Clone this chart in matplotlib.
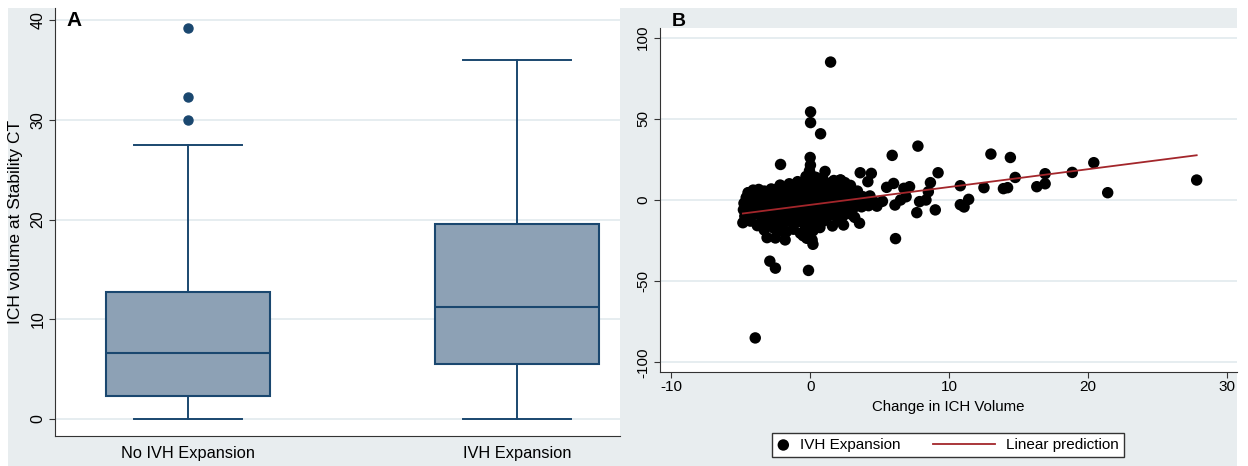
import numpy as np
import matplotlib.pyplot as plt
from matplotlib.patches import Rectangle
from matplotlib.legend_handler import HandlerLine2D

plt.rcParams['font.family'] = ['Liberation Sans', 'DejaVu Sans']
plt.rcParams['axes.unicode_minus'] = False

# ---- panel A: box plot summaries
groups = ['No IVH Expansion', 'IVH Expansion']
q1 = [2.3, 5.5]
med = [6.6, 11.2]
q3 = [12.7, 19.5]
whis_lo = [0.0, 0.0]
whis_hi = [27.5, 36.0]
outliers = [[30.0, 32.3, 39.2], []]

# ---- panel B: change in ICH volume vs change in IVH (estimated points)
chg_ich = [
    # outlying points
    1.47, 0.03, 0.03, 0.75, -2.13, 0.0, 5.9, 7.75, 13.0, 14.4, 20.4, 18.85,
    16.9, 16.9, 16.3, 14.75, 14.2, 13.9, 12.5, 10.8, 11.4, 11.07, 10.8, 21.4,
    27.8, 9.2, 8.65, 8.5, 8.33, 7.87, 7.67, 9.0, 6.14, 6.1, 7.15, 6.74, 6.0,
    5.5, 6.9, 6.5, 3.6, 4.4, 4.15, 1.07, 1.6, 2.4, 3.55, 3.2, -0.12, -2.9,
    -2.5, -3.95, 0.2, 0.14, -0.5, -1.8, -3.1, -2.5, -3.8, -4.84, -4.76, -4.47,
    -4.1, -4.7, -2.16, -0.9, 2.16, 2.5, -1.7, 0.02, -0.05, 0.1, -0.1, 0.3,
    # upper part of the cluster
    -0.3, 0.4, 0.9, 1.7, 2.2, -1.5, -0.5, 0.2, 0.7, 1.3, 1.9, 2.9,
    -4.4, -3.7, -3.3, -2.8, -2.3, -1.7, -1.2, -0.6, 0.0, 0.5, 1.0, 1.6, 2.3, 2.8, 3.4,
    -4.6, -4.2, -3.8, -3.4, -3.0, -2.6, -2.1, -1.6, -1.1, -0.6, -0.2, 0.3, 0.8,
    1.3, 1.8, 2.3, 2.8, 3.3, 3.8, 4.3,
    # middle of the cluster
    -4.3, -3.9, -3.5, -3.1, -2.7, -2.3, -1.9, -1.5, -1.0, -0.5, 0.0, 0.5, 1.0,
    1.5, 2.0, 2.5, 3.0, 3.5, 4.0, 4.6, 5.2,
    -4.8, -4.4, -4.0, -3.6, -3.2, -2.8, -2.4, -2.0, -1.6, -1.2, -0.8, -0.4, 0.1,
    0.6, 1.1, 1.6, 2.1, 2.6, 3.1, 3.7, 4.2, 4.8,
    # lower part of the cluster
    -4.7, -4.2, -3.8, -3.3, -2.9, -2.4, -2.0, -1.5, -1.0, -0.6, -0.1, 0.4, 0.9,
    1.4, 1.9, 2.4, 3.0,
    -4.3, -3.4, -2.9, -2.5, -2.0, -1.6, -1.2, -0.8, -0.4, 0.0, 0.5, 1.0, 2.0,
    -3.3, -2.6, -2.2, -1.2, -0.7, -0.3, 0.2, 0.7, -0.24,
]
chg_ivh = [
    85.0, 54.3, 47.7, 40.8, 21.9, 26.2, 27.5, 33.2, 28.3, 26.2, 23.0, 17.0,
    16.2, 10.0, 8.2, 13.9, 7.6, 7.0, 7.6, 8.8, 0.4, -4.3, -2.9, 4.5,
    12.3, 16.8, 10.7, 5.1, 0.0, -1.0, -7.8, -6.1, -23.8, -3.1, 8.2, 7.2, 10.2,
    7.8, 2.0, 0.0, 16.8, 16.4, 11.3, 17.6, -16.0, -15.4, -14.3, -10.7, -43.4, -37.7,
    -42.0, -85.0, -27.3, -24.6, -22.0, -24.6, -23.2, -23.4, -15.8, -14.0, -2.0, 4.5,
    6.1, -6.0, 9.2, 11.3, 12.3, 10.7, -19.5, 21.5, 18.0, 15.0, 13.0, 12.5,
    14.5, 14.0, 13.5, 12.0, 12.3, 10.0, 10.5, 11.0, 10.8, 10.2, 9.5, 9.0,
    4.5, 6.5, 5.5, 6.8, 7.2, 7.5, 8.0, 8.3, 8.8, 8.0, 7.6, 7.0, 6.8, 5.8, 5.5,
    1.5, 2.5, 3.0, 2.5, 3.0, 3.5, 3.2, 4.0, 3.5, 4.2, 4.5, 4.0, 3.6,
    3.2, 3.0, 2.5, 2.0, 1.5, 2.0, 2.5,
    -1.5, -1.0, -0.5, -1.2, -0.3, -0.8, 0.0, -0.5, 0.3, -0.2, 0.5, 0.0, -0.5,
    -0.2, -1.0, -0.8, -1.5, -1.0, -0.5, -1.2, -0.8,
    -6.0, -5.5, -5.0, -5.8, -4.5, -5.2, -4.8, -5.5, -4.2, -5.0, -4.5, -5.2, -4.3,
    -5.0, -4.5, -5.2, -4.8, -5.5, -5.0, -4.2, -3.5, -3.8,
    -10.0, -9.5, -8.8, -9.5, -8.5, -9.2, -8.6, -9.8, -8.8, -9.5, -8.5, -9.8, -8.8,
    -9.5, -8.5, -9.5, -9.0,
    -13.0, -12.5, -13.5, -12.8, -14.0, -13.0, -14.5, -13.2, -15.0, -13.5, -14.2, -12.8, -12.5,
    -18.5, -17.5, -19.0, -18.0, -20.5, -17.5, -19.0, -17.0, -23.6,
]
fit_intercept = -3.0
fit_slope = 1.1

navy = '#1a476f'
box_fill = '#8da1b5'
bg = '#e8edef'
grid_c = '#e4ecef'
axis_c = '#333333'
fit_c = '#a3262b'


class WideLine(HandlerLine2D):
    # legend line drawn longer than the (short) handle box
    def get_xdata(self, legend, xdescent, ydescent, width, height, fontsize):
        x0 = -xdescent - 3.3 * fontsize
        return [x0, -xdescent + width], [x0]


fig = plt.figure(figsize=(12.48, 4.66), dpi=100)
fig.patches.append(Rectangle((8 / 1248, 0), 1229 / 1248, 458 / 466,
                             transform=fig.transFigure, facecolor=bg,
                             edgecolor='none', zorder=-10))

axA = fig.add_axes([55 / 1248, 30 / 466, 565 / 1248, 428 / 466])
axB = fig.add_axes([660 / 1248, 94 / 466, 577 / 1248, 344 / 466])

# ---- A
stats = []
for i in range(len(groups)):
    stats.append(dict(med=med[i], q1=q1[i], q3=q3[i], whislo=whis_lo[i],
                      whishi=whis_hi[i], fliers=outliers[i], label=groups[i]))
axA.bxp(stats, positions=[1, 2], widths=0.5, capwidths=0.33, patch_artist=True,
        boxprops=dict(facecolor=box_fill, edgecolor=navy, linewidth=1.5),
        medianprops=dict(color=navy, linewidth=1.5),
        whiskerprops=dict(color=navy, linewidth=1.4),
        capprops=dict(color=navy, linewidth=1.4),
        flierprops=dict(marker='o', markerfacecolor=navy, markeredgecolor=navy,
                        markersize=6.5))
axA.set_xlim(0.596, 2.313)
axA.set_ylim(-1.75, 41.25)
axA.set_yticks([0, 10, 20, 30, 40])
axA.yaxis.grid(True, color=grid_c, linewidth=1.3)
axA.set_axisbelow(True)
axA.set_ylabel('ICH volume at Stability CT', fontsize=12.5, labelpad=5)
axA.tick_params(axis='x', length=0, pad=7, labelsize=11.8)
axA.tick_params(axis='y', length=4, direction='out', color=axis_c,
                labelsize=11.5, labelrotation=90, pad=3)
for lbl in axA.get_yticklabels():
    lbl.set_va('center')

# ---- B
axB.scatter(chg_ich, chg_ivh, s=68, color='black', edgecolors='none',
            zorder=3, label='IVH Expansion')
fx = np.array([min(chg_ich), max(chg_ich)])
fit_line, = axB.plot(fx, fit_intercept + fit_slope * fx, color=fit_c,
                     linewidth=1.3, zorder=4, label='Linear prediction')
axB.set_xlim(-10.8, 30.7)
axB.set_ylim(-106, 106)
axB.set_xticks([-10, 0, 10, 20, 30])
axB.set_yticks([-100, -50, 0, 50, 100])
axB.yaxis.grid(True, color=grid_c, linewidth=1.3)
axB.set_axisbelow(True)
axB.set_xlabel('Change in ICH Volume', fontsize=10.8, labelpad=4)
axB.tick_params(axis='x', length=4, color=axis_c, labelsize=11, pad=2)
axB.tick_params(axis='y', length=4, color=axis_c, labelsize=11,
                labelrotation=90, pad=3)
for lbl in axB.get_yticklabels():
    lbl.set_va('center')

for ax in (axA, axB):
    ax.set_facecolor('white')
    ax.spines['top'].set_visible(False)
    ax.spines['right'].set_visible(False)
    ax.spines['left'].set_color(axis_c)
    ax.spines['bottom'].set_color(axis_c)

fig.text(66 / 1248, 1 - 21 / 466, 'A', fontsize=15, fontweight='bold', va='center')
fig.text(672 / 1248, 1 - 21 / 466, 'B', fontsize=14, fontweight='bold', va='center')

fig.legend(handles=[axB.collections[0], fit_line],
           labels=['IVH Expansion', 'Linear prediction'],
           loc='upper center', bbox_to_anchor=(948 / 1248, 1 - 425 / 466),
           ncol=2, fontsize=11, frameon=True, fancybox=False,
           edgecolor=axis_c, framealpha=1, handlelength=0.8,
           handletextpad=0.7, columnspacing=5.4, borderpad=0.35,
           scatterpoints=1, handler_map={fit_line: WideLine()})

fig.savefig('out.png', dpi=100)
